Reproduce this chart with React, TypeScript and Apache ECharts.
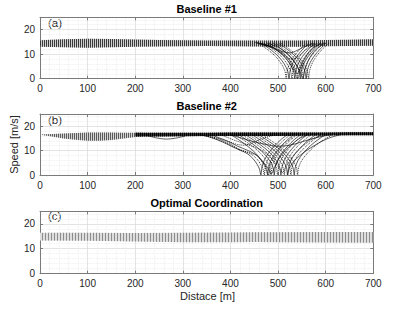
import { useEffect, useRef } from 'react';
import * as echarts from 'echarts';

// ---------------- data ----------------
// Panel (a) Baseline #1: speed band envelope
const bandAX = [0, 25, 50, 100, 150, 200, 250, 300, 350, 400, 450, 500, 550, 600, 650, 700];
const bandAUpper = [15.7, 15.9, 16.1, 16.3, 16.2, 16.0, 15.8, 15.7, 15.6, 15.6, 15.6, 15.6, 15.6, 15.8, 15.9, 16.1];
const bandALower = [13.0, 12.9, 12.8, 12.6, 12.8, 13.0, 13.1, 13.2, 13.3, 13.2, 13.1, 13.0, 13.0, 13.2, 13.3, 13.4];

// Panel (a) stopping / slowing vehicles  [distance, speed]
const tripsA: number[][][] = [
  [[452, 14.8], [475, 13.8], [495, 12.3], [510, 11.0], [525, 10.5], [540, 11.5], [555, 13.0], [575, 14.4]],
  [[460, 14.2], [485, 12.8], [505, 10.5], [520, 8.5], [532, 8.0], [545, 9.5], [560, 12.0], [580, 14.2]],
  [[455, 14.6], [480, 13.2], [500, 11.5], [515, 9.5], [527, 6.5], [535, 3.5], [540, 2.0], [546, 4.0], [555, 8.0], [570, 12.0], [590, 14.5]],
  [[466, 14.3], [490, 12.6], [508, 10.0], [522, 7.0], [531, 4.0], [537, 1.5], [541, 0], [548, 4.0], [560, 9.0], [578, 13.0], [598, 14.6]],
  [[478, 14.5], [500, 12.8], [518, 10.5], [532, 7.5], [542, 4.5], [549, 1.5], [552, 0], [556, 3.5], [565, 8.0], [580, 12.0], [600, 14.5]],
  [[459, 14.3], [477, 12.0], [495, 9.0], [507, 6.0], [514.5, 3.0], [517, 0], [519, 3.0], [524, 6.0], [533, 9.0], [546, 12.0], [559, 14.3]],
  [[463, 14.6], [482, 12.2], [501, 9.0], [513, 6.0], [520.5, 3.0], [523, 0], [525, 3.0], [530, 6.0], [539, 9.0], [552, 12.0], [565, 14.5]],
  [[470, 14.5], [489, 12.0], [507, 9.0], [519, 6.0], [526.5, 3.0], [529, 0], [531, 3.0], [536, 6.0], [545, 9.0], [558, 12.0], [571, 14.4]],
  [[476, 14.4], [495, 12.0], [513, 9.0], [525, 6.0], [532.5, 3.0], [535, 0], [537, 3.0], [542, 6.0], [551, 9.0], [564, 12.0], [577, 14.5]],
  [[482, 14.5], [501, 12.0], [519, 9.0], [531, 6.0], [538.5, 3.0], [541, 0], [543, 3.0], [548, 6.0], [557, 9.0], [570, 12.0], [583, 14.6]],
  [[489, 14.6], [507, 12.1], [525, 9.0], [537, 6.0], [544.5, 3.0], [547, 0], [549, 3.0], [554, 6.0], [563, 9.0], [576, 12.0], [589, 14.5]],
  [[495, 14.5], [513, 12.0], [531, 9.0], [543, 6.0], [550.5, 3.0], [553, 0], [555, 3.0], [560, 6.0], [569, 9.0], [582, 12.0], [595, 14.6]],
  [[501, 14.4], [519, 12.0], [537, 9.0], [549, 6.0], [556.5, 3.0], [559, 0], [561, 3.0], [566, 6.0], [575, 9.0], [588, 12.0], [601, 14.5]],
  [[506, 14.5], [524, 12.0], [542, 9.0], [554, 6.0], [561.5, 3.0], [564, 0], [566, 3.0], [571, 6.0], [580, 9.0], [593, 12.0], [608, 14.7]],
];

// Panel (b) Baseline #2: band envelopes (light start, dark platoon)
const bandB1X = [0, 25, 50, 75, 100, 125, 150, 175, 200, 215];
const bandB1Upper = [16.6, 16.8, 17.0, 17.2, 17.4, 17.4, 17.4, 17.3, 17.3, 17.3];
const bandB1Lower = [16.5, 15.8, 15.0, 14.4, 14.0, 14.0, 14.3, 15.0, 15.6, 15.8];
const bandB2X = [200, 250, 300, 350, 400, 450, 500, 550, 600, 650, 700];
const bandB2Upper = [17.3, 17.3, 17.3, 17.3, 17.4, 17.4, 17.4, 17.4, 17.4, 17.5, 17.5];
const bandB2Lower = [15.8, 15.8, 15.9, 16.0, 16.0, 16.0, 16.0, 16.1, 16.2, 16.3, 16.3];

const tripsB: number[][][] = [
  [[225, 16.2], [245, 15.2], [265, 14.7], [285, 15.1], [305, 16.0]],
  [[340, 16.2], [370, 15.2], [395, 13.8], [415, 12.5], [430, 12.2], [445, 13.0], [465, 14.8], [490, 16.3]],
  [[400, 16.5], [425, 15.0], [450, 13.6], [475, 12.5], [500, 11.8], [525, 12.2], [550, 13.6], [580, 15.3], [610, 16.5]],
  [[345, 16.3], [372, 14.6], [398, 12.4], [420, 10.2], [440, 9.2], [455, 8.0], [468, 5.0], [476, 1.5], [480, 0], [484, 4.0], [495, 8.5], [512, 12.5], [535, 16.3]],
  [[360, 16.4], [390, 14.2], [415, 11.8], [435, 10.2], [452, 8.5], [466, 6.0], [478, 3.0], [486, 0.5], [492, 3.0], [503, 7.0], [520, 11.0], [545, 15.0], [565, 16.6]],
  [[380, 16.5], [405, 14.5], [430, 12.8], [450, 11.5], [470, 9.5], [488, 6.5], [500, 3.5], [510, 1.0], [516, 3.0], [530, 7.5], [550, 11.5], [575, 15.0], [600, 16.6]],
  [[335, 16.6], [360, 15.3], [385, 13.4], [405, 11.5], [420, 10.2], [435, 8.8], [447, 6.8], [456, 4.4], [461, 2.4], [464, 0], [466, 3.0], [471, 6.0], [480, 9.0], [493, 12.0], [506, 14.5], [520, 16.6]],
  [[350, 16.5], [375, 14.8], [400, 12.6], [418, 10.6], [432, 9.5], [446, 8.2], [457, 6.2], [465, 3.8], [469, 2.0], [471, 0], [473, 3.0], [478, 6.0], [487, 9.0], [500, 12.0], [513, 14.5], [527, 16.6]],
  [[400, 16.6], [420, 14.1], [440, 11.2], [455, 8.5], [466, 5.7], [475.5, 3.0], [478, 0], [480, 3.0], [485, 6.0], [494, 9.0], [507, 12.0], [520, 14.5], [533, 16.6]],
  [[410, 16.6], [430, 14.0], [450, 11.2], [465, 8.5], [476, 5.7], [482.5, 3.0], [485, 0], [487, 3.0], [492, 6.0], [501, 9.0], [514, 12.0], [527, 14.5], [541, 16.6]],
  [[417, 16.6], [437, 14.0], [457, 11.2], [472, 8.5], [483, 5.7], [489.5, 3.0], [492, 0], [494, 3.0], [499, 6.0], [508, 9.0], [521, 12.0], [534, 14.5], [548, 16.6]],
  [[424, 16.6], [444, 14.0], [464, 11.2], [479, 8.5], [490, 5.7], [496.5, 3.0], [499, 0], [501, 3.0], [506, 6.0], [515, 9.0], [528, 12.0], [541, 14.5], [555, 16.6]],
  [[431, 16.6], [451, 14.0], [471, 11.2], [486, 8.5], [497, 5.7], [503.5, 3.0], [506, 0], [508, 3.0], [513, 6.0], [522, 9.0], [535, 12.0], [548, 14.5], [562, 16.6]],
  [[438, 16.6], [458, 14.0], [478, 11.2], [493, 8.5], [504, 5.7], [510.5, 3.0], [513, 0], [515, 3.0], [520, 6.0], [529, 9.0], [542, 12.0], [556, 14.5], [570, 16.6]],
  [[445, 16.6], [465, 14.0], [485, 11.2], [500, 8.5], [511, 5.7], [517.5, 3.0], [520, 0], [522, 3.0], [527, 6.0], [537, 9.0], [551, 12.0], [565, 14.5], [580, 16.6]],
  [[452, 16.6], [472, 14.0], [492, 11.2], [507, 8.5], [518, 5.7], [524.5, 3.0], [527, 0], [529, 3.0], [535, 6.0], [545, 9.0], [560, 12.0], [575, 14.5], [590, 16.6]],
  [[459, 16.6], [479, 14.0], [499, 11.2], [514, 8.5], [525, 5.7], [531.5, 3.0], [534, 0], [536, 3.0], [542, 6.0], [553, 9.0], [568, 12.0], [584, 14.5], [600, 16.6]],
  [[466, 16.6], [486, 14.0], [506, 11.2], [521, 8.5], [532, 5.7], [538.5, 3.0], [541, 0], [543, 3.0], [550, 6.0], [562, 9.0], [578, 12.0], [596, 14.5], [615, 16.6]],
  [[520, 0], [524, 3.0], [536, 6.2], [556, 9.5], [580, 12.5], [605, 15.0], [632, 16.6]],
];

// Panel (c) Optimal Coordination: band envelope
const bandCX = [0, 100, 200, 300, 400, 455, 500, 600, 700];
const bandCUpper = [16.4, 16.4, 16.3, 16.4, 16.5, 16.6, 16.6, 16.7, 16.7];
const bandCLower = [13.3, 13.2, 12.9, 12.6, 12.6, 12.7, 12.6, 12.5, 12.4];

const panelTitles = ['Baseline #1', 'Baseline #2', 'Optimal Coordination'];
const panelTags = ['(a)', '(b)', '(c)'];

// ---------------- layout / style ----------------
const FONT = '"Liberation Sans", Arial, Helvetica, sans-serif';
const TXT = '#262626';
const BOX = '#7a7a7a';
const GRIDS = [
  { left: 40, top: 17.3, width: 333.3, height: 61.4 },
  { left: 40, top: 114, width: 333.3, height: 61 },
  { left: 40, top: 211.3, width: 333.3, height: 62.4 },
];

const stripe = (color: string, gap: number) => ({
  symbol: 'rect',
  symbolSize: 1,
  symbolKeepAspect: false,
  color,
  backgroundColor: 'rgba(0,0,0,0)',
  dashArrayX: [1, gap],
  dashArrayY: [4, 0],
  rotation: 0,
});

export default function App() {
  const ref = useRef<HTMLDivElement>(null);
  useEffect(() => {
    const chart = echarts.init(ref.current!, null, { renderer: 'svg', width: 418, height: 310 });
    const xAxes: any[] = [];
    const yAxes: any[] = [];
    GRIDS.forEach((_, i) => {
      const common = { type: 'value', gridIndex: i };
      xAxes.push({
        ...common, min: 0, max: 700, interval: 100, position: 'bottom',
        axisLine: { show: true, onZero: false, lineStyle: { color: BOX, width: 1 } },
        axisTick: { show: true, inside: true, length: 3, lineStyle: { color: BOX } },
        axisLabel: { show: true, margin: 5, fontSize: 10, color: TXT, fontFamily: FONT },
        splitLine: { show: true, lineStyle: { color: '#dcdcdc', width: 0.8 } },
        minorTick: { show: false, splitNumber: 5 },
        minorSplitLine: { show: true, lineStyle: { color: '#ebebeb', width: 0.8, type: 'dotted' } },
      });
      xAxes.push({
        ...common, min: 0, max: 700, interval: 100, position: 'top',
        axisLine: { show: true, onZero: false, lineStyle: { color: BOX, width: 1 } },
        axisTick: { show: true, inside: true, length: 3, lineStyle: { color: BOX } },
        axisLabel: { show: false },
        splitLine: { show: false },
      });
      yAxes.push({
        ...common, min: 0, max: 25, interval: 10, position: 'left',
        axisLine: { show: true, onZero: false, lineStyle: { color: BOX, width: 1 } },
        axisTick: { show: true, inside: true, length: 3, lineStyle: { color: BOX } },
        axisLabel: { show: true, margin: 5, fontSize: 10, color: TXT, fontFamily: FONT, showMaxLabel: false },
        splitLine: { show: true, lineStyle: { color: '#dcdcdc', width: 0.8 } },
        minorTick: { show: false, splitNumber: 5 },
        minorSplitLine: { show: true, lineStyle: { color: '#ebebeb', width: 0.8, type: 'dotted' } },
      });
      yAxes.push({
        ...common, min: 0, max: 25, interval: 10, position: 'right',
        axisLine: { show: true, onZero: false, lineStyle: { color: BOX, width: 1 } },
        axisTick: { show: true, inside: true, length: 3, lineStyle: { color: BOX } },
        axisLabel: { show: false },
        splitLine: { show: false },
      });
    });

    const series: any[] = [];
    const addBand = (key: string, xs: number[], lo: number[], up: number[], gi: number, fill: string, decal: any) => {
      series.push({
        type: 'line', xAxisIndex: gi * 2, yAxisIndex: gi * 2, stack: key,
        encode: { x: 1, y: 0 },
        data: xs.map((x, i) => [lo[i], x]),
        symbol: 'none', showSymbol: false, silent: true, z: 2,
        lineStyle: { width: 0, opacity: 0 },
      });
      series.push({
        type: 'line', xAxisIndex: gi * 2, yAxisIndex: gi * 2, stack: key,
        encode: { x: 1, y: 0 },
        data: xs.map((x, i) => [up[i] - lo[i], x]),
        symbol: 'none', showSymbol: false, silent: true, z: 2,
        lineStyle: { width: 0, opacity: 0, decal },
        itemStyle: { decal },
        areaStyle: { color: fill, opacity: 1 },
      });
    };
    addBand('a', bandAX, bandALower, bandAUpper, 0, '#cfcfcf', stripe('#3a3a3a', 1));
    addBand('b1', bandB1X, bandB1Lower, bandB1Upper, 1, '#d4d4d4', stripe('#5a5a5a', 1));
    addBand('b2', bandB2X, bandB2Lower, bandB2Upper, 1, '#3a3a3a', stripe('#000000', 1));
    addBand('c', bandCX, bandCLower, bandCUpper, 2, '#dedede', stripe('#8e8e8e', 2));

    const addTrips = (trips: number[][][], gi: number) => {
      trips.forEach((t, k) => {
        series.push({
          type: 'line', xAxisIndex: gi * 2, yAxisIndex: gi * 2,
          data: t, symbol: 'none', showSymbol: false, silent: true, z: 3,
          smooth: 0.3, clip: true,
          lineStyle: { color: '#000', width: k % 2 ? 1 : 0.8, opacity: 0.8, type: k % 2 ? 'dotted' : 'solid' },
        });
      });
    };
    addTrips(tripsA, 0);
    addTrips(tripsB, 1);

    const graphic: any[] = [];
    const titleY = [9, 105.5, 203];
    const tagY = [16.5, 113.5, 210];
    panelTitles.forEach((t, i) => {
      graphic.push({
        type: 'text', x: 206.7, y: titleY[i], silent: true,
        style: { text: t, font: `bold 11px ${FONT}`, fill: '#000', textAlign: 'center', textVerticalAlign: 'middle' },
      });
      graphic.push({
        type: 'text', x: 48, y: tagY[i], silent: true,
        style: { text: panelTags[i], font: `11.5px ${FONT}`, fill: TXT, textAlign: 'left', textVerticalAlign: 'top' },
      });
    });
    graphic.push({
      type: 'text', x: 13.5, y: 144.5, rotation: Math.PI / 2, silent: true,
      style: { text: 'Speed [m/s]', font: `11px ${FONT}`, fill: TXT, textAlign: 'center', textVerticalAlign: 'middle' },
    });
    graphic.push({
      type: 'text', x: 207.5, y: 296, silent: true,
      style: { text: 'Distace [m]', font: `11px ${FONT}`, fill: TXT, textAlign: 'center', textVerticalAlign: 'middle' },
    });

    chart.setOption({
      animation: false,
      backgroundColor: '#ffffff',
      grid: GRIDS.map((g) => ({ ...g, containLabel: false })),
      xAxis: xAxes,
      yAxis: yAxes,
      series,
      graphic,
    });
    return () => chart.dispose();
  }, []);
  return <div ref={ref} style={{ position: 'absolute', left: 0, top: 0, width: 418, height: 310 }} />;
}
